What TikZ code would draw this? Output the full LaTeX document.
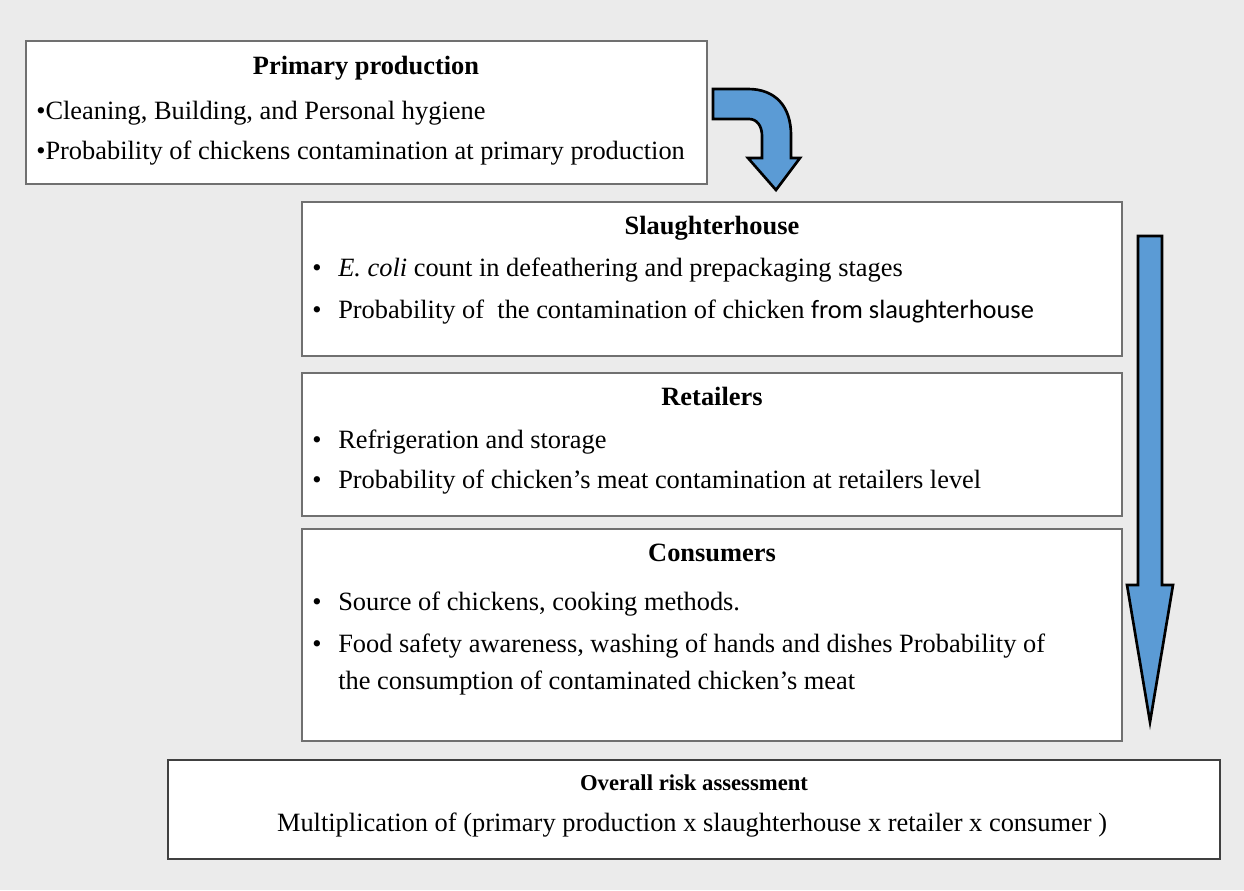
\documentclass[tikz,border=0pt]{standalone}
\usepackage{fontspec}
\setmainfont{Liberation Serif}
\newfontfamily\calibri{Carlito}
\definecolor{bgc}{HTML}{EBEBEB}
\definecolor{arrowblue}{HTML}{5B9BD5}
\definecolor{boxline}{HTML}{707070}
\begin{document}
\begin{tikzpicture}[x=0.75pt,y=-0.75pt,
  box/.style={draw=boxline,line width=1.1pt,fill=white},
  bigarrow/.style={fill=arrowblue,draw=black,line width=2pt,line join=miter},
  txt/.style={anchor=base west,inner sep=0pt,font=\fontsize{19.8}{23}\selectfont},
  ttl/.style={anchor=base,inner sep=0pt,font=\fontsize{19.8}{23}\selectfont\bfseries},
  bul/.style={anchor=base west,inner sep=0pt,font=\fontsize{19.8}{23}\selectfont}]
\fill[bgc] (0,0) rectangle (1244,890);
\useasboundingbox (0,0) rectangle (1244,890);
% boxes
\draw[box] (26,41) rectangle (707,184);
\draw[box] (302,202) rectangle (1122,356);
\draw[box] (302,373) rectangle (1122,516);
\draw[box] (302,529) rectangle (1122,741);
\draw[box,draw=black!75] (168,760) rectangle (1220,859);
% primary production
\node[ttl] (ppt) at (366,74) {Primary production};
\node[txt] (pp1) at (36,119) {•Cleaning, Building, and Personal hygiene};
\node[txt] (pp2) at (36,159) {•Probability of chickens contamination at primary production};
% slaughterhouse
\node[ttl] (sht) at (712,234) {Slaughterhouse};
\node[bul] (shb1) at (312,276) {•};
\node[txt] (sh1) at (338,276) {\textit{E. coli} count in defeathering and prepackaging stages};
\node[bul] (shb2) at (312,318) {•};
\node[txt] (sh2) at (338,318) {Probability of\ \ the contamination of chicken {\calibri from slaughterhouse}};
% retailers
\node[ttl] (ret) at (712,405) {Retailers};
\node[bul] (reb1) at (312,448) {•};
\node[txt] (re1) at (338,448) {Refrigeration and storage};
\node[bul] (reb2) at (312,488) {•};
\node[txt] (re2) at (338,488) {Probability of chicken's meat contamination at retailers level};
% consumers
\node[ttl] (cot) at (712,561) {Consumers};
\node[bul] (cob1) at (312,610) {•};
\node[txt] (co1) at (338,610) {Source of chickens, cooking methods.};
\node[bul] (cob2) at (312,652) {•};
\node[txt] (co2) at (338,652) {Food safety awareness, washing of hands and dishes Probability of};
\node[txt] (co3) at (338,689) {the consumption of contaminated chicken's meat};
% overall
\node[anchor=base,inner sep=0pt,font=\fontsize{17}{20}\selectfont\bfseries] (ovt) at (694,790) {Overall risk assessment};
\node[anchor=base,inner sep=0pt,font=\fontsize{19.8}{23}\selectfont] (ov1) at (692,831) {Multiplication of (primary production x slaughterhouse x retailer x consumer )};
% curved arrow
\draw[bigarrow] (713,89) -- (748,89) .. controls (775,89) and (791,106) .. (791,135) -- (791,158) -- (800,158) -- (776,190) -- (748,158) -- (762,158) -- (762,136) .. controls (762,126) and (757,119) .. (749,119) -- (713,119) -- cycle;
% down arrow
\draw[bigarrow] (1138,236) -- (1162,236) -- (1162,585) -- (1173,585) -- (1150,722) -- (1127,585) -- (1138,585) -- cycle;
\end{tikzpicture}
\end{document}
